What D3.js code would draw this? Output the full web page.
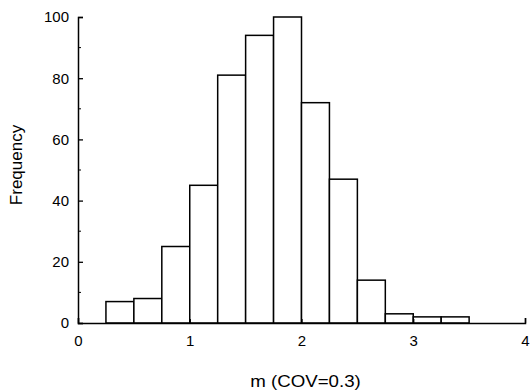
<!DOCTYPE html>
<html>
<head>
<meta charset="utf-8">
<script src="https://cdn.jsdelivr.net/npm/d3@7"></script>
<style>
  body { margin: 0; background: #fff; }
  text { font-family: "Liberation Sans", Arial, sans-serif; }
</style>
</head>
<body>
<script>
// histogram bins (width 0.25) and counts
const binStarts = [0.25, 0.5, 0.75, 1.0, 1.25, 1.5, 1.75, 2.0, 2.25, 2.5, 2.75, 3.0, 3.25];
const counts = [7, 8, 25, 45, 81, 94, 100, 72, 47, 14, 3, 2, 2];
const binWidth = 0.25;
const xTicks = [0, 1, 2, 3, 4];
const yTicks = [0, 20, 40, 60, 80, 100];

const margin = { top: 17, right: 6, bottom: 69, left: 78 };
const width = 531 - margin.left - margin.right;
const height = 392 - margin.top - margin.bottom;

const svg = d3.select('body').append('svg')
  .attr('width', 531)
  .attr('height', 392)
  .append('g')
  .attr('transform', `translate(${margin.left}, ${margin.top})`);

const x = d3.scaleLinear().domain([0, 4]).range([0, 447]);
const y = d3.scaleLinear().domain([0, 100]).range([height, 0]);

// bars
svg.selectAll('.bar')
  .data(binStarts)
  .enter()
  .append('rect')
  .attr('class', 'bar')
  .attr('x', d => x(d))
  .attr('y', (d, i) => y(counts[i]))
  .attr('width', x(binWidth) - x(0))
  .attr('height', (d, i) => y(0) - y(counts[i]))
  .style('fill', '#fff')
  .style('stroke', '#000')
  .style('stroke-width', 1.5);

// axes with inward ticks
const xAxis = d3.axisBottom(x).tickValues(xTicks).tickSize(-5).tickPadding(12).tickFormat(d3.format('d'));
const yAxis = d3.axisLeft(y).tickValues(yTicks).tickSize(-5).tickPadding(9);

const gx = svg.append('g')
  .attr('transform', `translate(0,${height})`)
  .call(xAxis);
gx.selectAll('.tick')
  .filter(d => d > 0 && d < 4)
  .select('line').attr('y2', -4);

svg.append('g')
  .attr('transform', `translate(${x(0)},0)`)
  .call(yAxis);

// minor ticks
svg.append('g').selectAll('line')
  .data([10, 30, 50, 70, 90])
  .enter().append('line')
  .attr('x1', 0).attr('x2', 3)
  .attr('y1', d => y(d)).attr('y2', d => y(d))
  .style('stroke', '#000');

svg.selectAll('.domain').attr('stroke-width', 1.5);
svg.selectAll('.tick line').attr('stroke-width', 1.3);
svg.selectAll('.tick text').style('font-size', '15px').style('fill', '#000');

svg.append('text')
  .attr('transform', `translate(-56,148) rotate(-90)`)
  .attr('text-anchor', 'middle')
  .style('font-size', '17px')
  .text('Frequency');

svg.append('text')
  .attr('transform', `translate(${x(2) + 4},${height + 64}) scale(1.1,1)`)
  .attr('text-anchor', 'middle')
  .style('font-size', '17px')
  .text('m (COV=0.3)');
</script>
</body>
</html>
